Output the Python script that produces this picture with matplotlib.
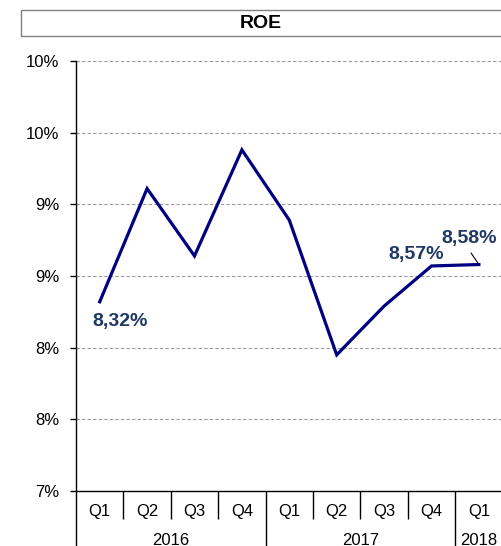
import matplotlib
matplotlib.use("Agg")
import matplotlib.pyplot as plt
from matplotlib.ticker import FuncFormatter, FixedLocator
from matplotlib.patches import Rectangle

quarters = ["Q1", "Q2", "Q3", "Q4", "Q1", "Q2", "Q3", "Q4", "Q1"]
years = ["2016", "2017", "2018"]
year_counts = [4, 4, 1]
roe = [8.32, 9.11, 8.64, 9.38, 8.89, 7.95, 8.29, 8.57, 8.58]
labels = {0: "8,32%", 7: "8,57%", 8: "8,58%"}
yticks = [7.0, 7.5, 8.0, 8.5, 9.0, 9.5, 10.0]

plt.rcParams['font.family'] = ['Liberation Sans', 'DejaVu Sans']

W, H = 501, 546
fig = plt.figure(figsize=(W / 100, H / 100), dpi=100)
ax = fig.add_axes([76 / W, 1 - 491 / H, 426.6 / W, 430 / H])

x = list(range(len(roe)))
ax.plot(x, roe, color="#000080", lw=2.3, solid_joinstyle="miter", zorder=3)

ax.set_xlim(-0.5, len(roe) - 0.5)
ax.set_ylim(yticks[0], yticks[-1])
ax.set_yticks(yticks)
ax.yaxis.set_major_formatter(FuncFormatter(lambda v, p: f"{int(v + 0.5)}%"))
for t in yticks[1:]:
    ax.axhline(t, color="#9a9a9a", lw=0.8, ls=(0, (3, 2)), zorder=1)

for s in ["top", "right"]:
    ax.spines[s].set_visible(False)
ax.spines["left"].set_color("black")
ax.spines["bottom"].set_color("black")
ax.spines["left"].set_linewidth(1.0)
ax.spines["bottom"].set_linewidth(1.0)

ax.tick_params(axis="y", direction="out", length=4.3, width=1.0, labelsize=12, pad=7.7)

# x-axis: year boundaries as long major ticks, quarter boundaries as short minor ticks
bounds = [-0.5]
for c in year_counts:
    bounds.append(bounds[-1] + c)
minor = [i - 0.5 for i in range(1, len(roe)) if (i - 0.5) not in bounds]
ax.xaxis.set_major_locator(FixedLocator(bounds))
ax.xaxis.set_minor_locator(FixedLocator(minor))
ax.tick_params(axis="x", which="major", direction="out", length=42, width=1.0, labelbottom=False)
ax.tick_params(axis="x", which="minor", direction="out", length=20, width=1.0, labelbottom=False)

trans = ax.get_xaxis_transform()
for i, q in enumerate(quarters):
    ax.annotate(q, xy=(i, 0), xycoords=trans, xytext=(0, -14.9), textcoords="offset points",
                ha="center", va="center", fontsize=12)
for j, yr in enumerate(years):
    cx = (bounds[j] + bounds[j + 1]) / 2
    ax.annotate(yr, xy=(cx, 0), xycoords=trans, xytext=(0, -35.3), textcoords="offset points",
                ha="center", va="center", fontsize=12)

lab_col = "#1f3864"
offsets = {0: (14.9, -14.2), 7: (-11, 7.9), 8: (-6.7, 18.9)}
for i, txt in labels.items():
    if i == 8:
        ax.annotate(txt, xy=(i, roe[i]), xytext=offsets[i], textcoords="offset points",
                    ha="center", va="center", fontsize=14, fontweight="bold", color=lab_col,
                    arrowprops=dict(arrowstyle="-", color="black", lw=0.8,
                                    relpos=(0.45, 0.0), shrinkA=3, shrinkB=1.5))
    else:
        ax.annotate(txt, xy=(i, roe[i]), xytext=offsets[i], textcoords="offset points",
                    ha="center", va="center", fontsize=14, fontweight="bold", color=lab_col)

# title box
fig.patches.append(Rectangle((20.7 / W, 1 - 35.7 / H), (W - 20.7 + 5) / W, 25.7 / H,
                             transform=fig.transFigure, fill=False, edgecolor="#808080", lw=1.0))
fig.text(260.8 / W, 1 - 23.5 / H, "ROE", ha="center", va="center", fontsize=14, fontweight="bold")

fig.savefig("out.png", dpi=100)
